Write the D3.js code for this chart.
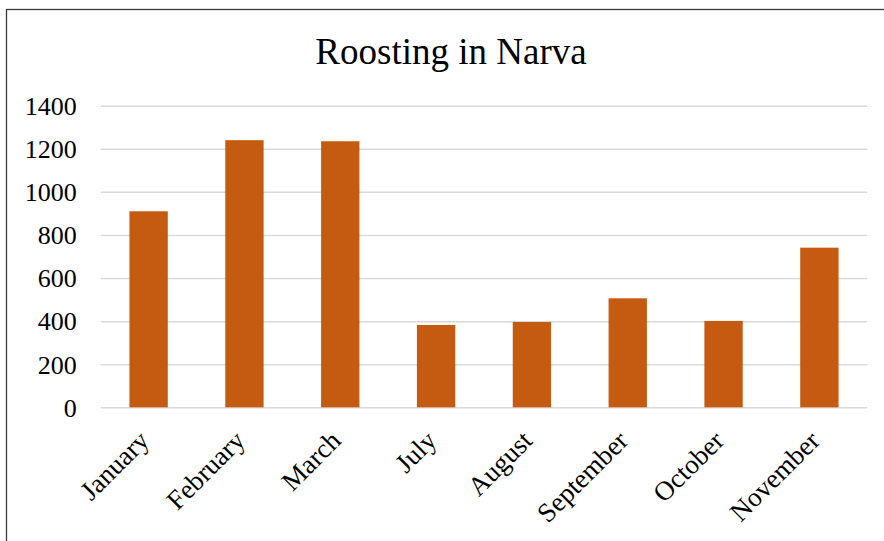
<!DOCTYPE html>
<html>
<head>
<meta charset="utf-8">
<script src="https://cdn.jsdelivr.net/npm/d3@7"></script>
<style>
  html, body { margin: 0; padding: 0; background: #fff; }
  svg { display: block; }
  text { font-family: "Liberation Serif", "Times New Roman", serif; fill: #000; }
</style>
</head>
<body>
<svg id="chart" width="884" height="541"></svg>
<script>
// Monthly roosting counts
const months = ["January", "February", "March", "July", "August", "September", "October", "November"];
const counts = [910, 1240, 1235, 382, 396, 506, 401, 741];
const yTicks = [0, 200, 400, 600, 800, 1000, 1200, 1400];
const chartTitle = "Roosting in Narva";

const W = 884, H = 541;
const plot = { left: 100.7, right: 867.3, top: 105.7, bottom: 407.3 };

const svg = d3.select("#chart");

// outer frame of the chart area
svg.append("rect")
  .attr("x", 6.5).attr("y", 9.5)
  .attr("width", W).attr("height", H)
  .attr("fill", "#fff")
  .attr("stroke", "#3a3a3a")
  .attr("stroke-width", 1.3);

const x = d3.scaleBand()
  .domain(months)
  .range([plot.left, plot.right])
  .paddingInner(0.6)
  .paddingOuter(0.3);

const y = d3.scaleLinear()
  .domain([0, 1400])
  .range([plot.bottom, plot.top]);

// horizontal gridlines and value labels
const yAxis = d3.axisLeft(y)
  .tickValues(yTicks)
  .tickSize(-(plot.right - plot.left))
  .tickPadding(24)
  .tickFormat(d3.format("d"));

const gy = svg.append("g")
  .attr("transform", `translate(${plot.left},0)`)
  .call(yAxis);
gy.select(".domain").remove();
gy.selectAll(".tick line")
  .attr("stroke", "#d9d9d9")
  .attr("stroke-width", 1.5);
gy.selectAll(".tick text")
  .attr("font-size", 26)
  .attr("dy", "0.34em")
  .style("font-family", "'Liberation Serif', 'Times New Roman', serif");

// bars
svg.append("g")
  .selectAll("rect")
  .data(months.map((m, i) => ({ m, v: counts[i] })))
  .join("rect")
  .attr("x", d => x(d.m))
  .attr("y", d => y(d.v))
  .attr("width", x.bandwidth())
  .attr("height", d => y(0) - y(d.v))
  .attr("fill", "#c55a11");

// category labels, rotated 45 degrees
const xAxis = d3.axisBottom(x).tickSize(0).tickPadding(0);
const gx = svg.append("g")
  .attr("transform", `translate(0,${plot.bottom})`)
  .call(xAxis);
gx.select(".domain").remove();
gx.selectAll(".tick text")
  .attr("font-size", 27)
  .attr("text-anchor", "end")
  .attr("dy", 0)
  .attr("transform", "translate(2,35) rotate(-45)")
  .style("font-family", "'Liberation Serif', 'Times New Roman', serif");

// title
svg.append("text")
  .attr("x", 451)
  .attr("y", 64)
  .attr("text-anchor", "middle")
  .attr("font-size", 37)
  .text(chartTitle);
</script>
</body>
</html>
